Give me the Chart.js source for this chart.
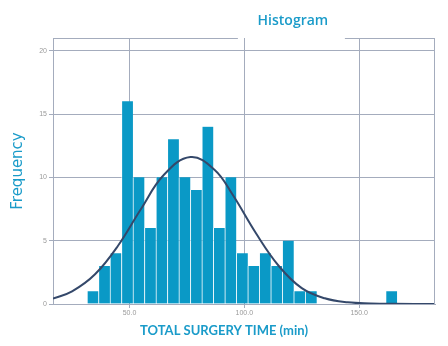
<!DOCTYPE html>
<html>
<head>
<meta charset="utf-8">
<script src="https://cdn.jsdelivr.net/npm/chart.js@4/dist/chart.umd.min.js"></script>
<style>
  html, body { margin: 0; padding: 0; background: #fff; }
  #chart { display: block; }
</style>
</head>
<body>
<canvas id="chart" width="448" height="346"></canvas>
<script>
// Histogram bins (centre of each 5-min bin) and counts
const binCenters = [34, 39, 44, 49, 54, 59, 64, 69, 74, 79, 84, 89, 94, 99, 104, 109, 114, 119, 124, 129, 164];
const binCounts  = [1, 3, 4, 16, 10, 6, 10, 13, 10, 9, 14, 6, 10, 4, 3, 4, 3, 5, 1, 1, 1];

// Fitted normal curve
const curveX = [16.7, 25, 35, 45, 55, 65, 76.5, 87, 95, 105, 115, 125, 135, 145, 155, 165, 183];
const curveY = [0.43, 1.0, 2.35, 4.6, 7.5, 10.2, 11.6, 10.6, 8.6, 5.6, 3.0, 1.25, 0.45, 0.13, 0.04, 0.01, 0];

const xTicks = [50, 100, 150];
const yTicks = [0, 5, 10, 15, 20];

const TEAL = '#1a9bc9';
const GRID = '#a4acbd';

// draws the titles and the plot frame (with a gap under the title)
const frame = {
    id: 'frame',
    afterDraw(chart) {
        const { ctx, chartArea: a } = chart;
        const tx = a.left + (a.right - a.left) * 0.628;
        ctx.save();
        ctx.fillStyle = TEAL;
        ctx.textAlign = 'center';
        ctx.textBaseline = 'middle';
        ctx.font = "600 14px 'Open Sans'";
        ctx.fillText('Histogram', tx, 21);
        ctx.font = "bold 13px Lato";
        ctx.fillText('TOTAL SURGERY TIME (min)', chart.width / 2, 331);
        ctx.strokeStyle = GRID;
        ctx.lineWidth = 1;
        ctx.beginPath();
        ctx.moveTo(a.left, a.top + 0.5);
        ctx.lineTo(tx - 55, a.top + 0.5);
        ctx.moveTo(tx + 52, a.top + 0.5);
        ctx.lineTo(a.right, a.top + 0.5);
        ctx.moveTo(a.right - 0.5, a.top);
        ctx.lineTo(a.right - 0.5, a.bottom);
        ctx.stroke();
        ctx.restore();
    }
};

new Chart(document.getElementById('chart'), {
    data: {
        datasets: [
            {
                type: 'line',
                data: curveX.map((x, i) => ({ x: x, y: curveY[i] })),
                borderColor: '#34486a',
                borderWidth: 2,
                pointRadius: 0,
                tension: 0.4,
                fill: false,
                order: 0
            },
            {
                type: 'bar',
                data: binCenters.map((x, i) => ({ x: x, y: binCounts[i] })),
                backgroundColor: '#0a99c6',
                borderColor: 'rgba(255,255,255,0.55)',
                borderWidth: { left: 1, right: 0, top: 0, bottom: 0 },
                barPercentage: 1,
                categoryPercentage: 1,
                order: 1
            }
        ]
    },
    options: {
        responsive: false,
        animation: false,
        layout: { padding: { top: 38, right: 13, left: 0, bottom: 0 } },
        plugins: {
            legend: { display: false },
            tooltip: { enabled: false }
        },
        scales: {
            x: {
                type: 'linear',
                min: 16.7,
                max: 183,
                offset: false,
                afterBuildTicks: s => { s.ticks = xTicks.map(v => ({ value: v })); },
                afterFit: s => { s.height = 42; },
                ticks: {
                    color: '#9a9a9a',
                    font: { size: 7 },
                    padding: 1,
                    callback: v => v.toFixed(1)
                },
                grid: { color: GRID, tickLength: 4, offset: false },
                border: { color: GRID }
            },
            y: {
                min: 0,
                max: 21,
                afterBuildTicks: s => { s.ticks = yTicks.map(v => ({ value: v })); },
                afterFit: s => { s.width = 53; },
                ticks: {
                    color: '#9a9a9a',
                    font: { size: 7 },
                    padding: 2
                },
                grid: { color: GRID, tickLength: 4 },
                border: { color: GRID },
                title: {
                    display: true,
                    text: 'Frequency',
                    color: TEAL,
                    font: { family: 'DejaVu Sans', size: 15 },
                    padding: { top: 9, bottom: 0 }
                }
            }
        }
    },
    plugins: [frame]
});
</script>
</body>
</html>
